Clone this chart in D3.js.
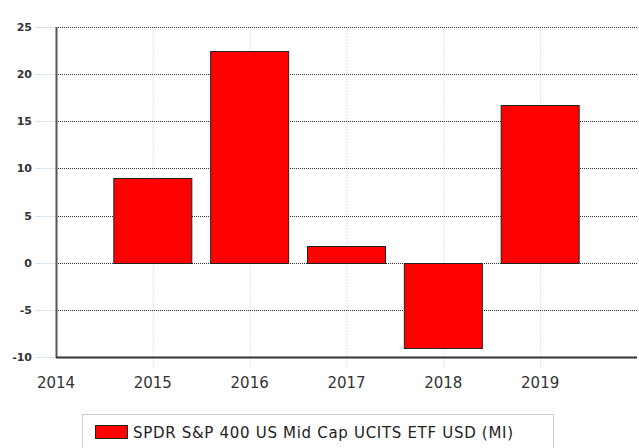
<!DOCTYPE html>
<html>
<head>
<meta charset="utf-8">
<script src="https://cdn.jsdelivr.net/npm/d3@7"></script>
<style>
  body { margin: 0; background: #fff; }
  svg { display: block; }
</style>
</head>
<body>
<svg id="chart" width="639" height="448"></svg>
<script>
// Annual returns (%)
let years = [2015, 2016, 2017, 2018, 2019];
let returns = [9.0, 22.45, 1.77, -9.05, 16.7];
let yTicks = [-10, -5, 0, 5, 10, 15, 20, 25];
let xTicks = [2014, 2015, 2016, 2017, 2018, 2019];
let seriesName = "SPDR S&P 400 US Mid Cap UCITS ETF USD (MI)";

let svg = d3.select("#chart");
let font = "'DejaVu Sans', Verdana, sans-serif";

let plot = { left: 56, right: 637, top: 27, bottom: 357 };

let x = d3.scaleLinear()
    .domain([2014, 2020])
    .range([plot.left, plot.right]);

let y = d3.scaleLinear()
    .domain([-10, 25])
    .range([plot.bottom, plot.top]);

let barWidth = 78;

// Vertical grid (light blue, dotted)
svg.append("g")
    .selectAll("line")
    .data(xTicks.slice(1))
    .join("line")
    .attr("x1", d => x(d) + 0.5)
    .attr("x2", d => x(d) + 0.5)
    .attr("y1", plot.top)
    .attr("y2", plot.bottom + 12)
    .attr("stroke", "#d6e6f7")
    .attr("stroke-dasharray", "2,1");

// Horizontal grid (dark, dotted)
svg.append("g")
    .selectAll("line")
    .data(yTicks.slice(1))
    .join("line")
    .attr("x1", plot.left)
    .attr("x2", plot.right)
    .attr("y1", d => Math.round(y(d)) + 0.5)
    .attr("y2", d => Math.round(y(d)) + 0.5)
    .attr("stroke", "#333")
    .attr("stroke-dasharray", "1,1");

// Y tick marks (light blue)
svg.append("g")
    .selectAll("line")
    .data(yTicks)
    .join("line")
    .attr("x1", 35)
    .attr("x2", plot.left)
    .attr("y1", d => Math.round(y(d)) + 0.5)
    .attr("y2", d => Math.round(y(d)) + 0.5)
    .attr("stroke", "#d6e6f7");

// Bars
svg.append("g")
    .selectAll("rect")
    .data(years)
    .join("rect")
    .attr("x", (d, i) => x(d) - barWidth / 2)
    .attr("y", (d, i) => Math.round(y(Math.max(0, returns[i]))) + 0.5)
    .attr("width", barWidth)
    .attr("height", (d, i) => Math.abs(Math.round(y(returns[i])) - Math.round(y(0))))
    .attr("fill", "#ff0000")
    .attr("stroke", "#222")
    .attr("stroke-width", 1);

// Axis lines
svg.append("line")
    .attr("x1", plot.left + 0.5).attr("x2", plot.left + 0.5)
    .attr("y1", plot.top).attr("y2", plot.bottom + 1)
    .attr("stroke", "#555").attr("stroke-width", 2);
svg.append("line")
    .attr("x1", plot.left).attr("x2", plot.right)
    .attr("y1", plot.bottom + 0.5).attr("y2", plot.bottom + 0.5)
    .attr("stroke", "#333").attr("stroke-width", 2);

// Y labels
svg.append("g")
    .selectAll("text")
    .data(yTicks)
    .join("text")
    .attr("x", 32)
    .attr("y", d => y(d) + 4)
    .attr("text-anchor", "end")
    .attr("font-family", font)
    .attr("font-size", 11)
    .attr("font-weight", 600)
    .attr("fill", "#333")
    .text(d => d);

// X labels
svg.append("g")
    .selectAll("text")
    .data(xTicks)
    .join("text")
    .attr("x", d => x(d))
    .attr("y", 388)
    .attr("text-anchor", "middle")
    .attr("font-family", font)
    .attr("font-size", 15)
    .attr("fill", "#333")
    .text(d => d);

// Legend
let legend = svg.append("g");
legend.append("rect")
    .attr("x", 82.5).attr("y", 414.5)
    .attr("width", 471).attr("height", 40)
    .attr("fill", "#fff")
    .attr("stroke", "#ccc");
legend.append("rect")
    .attr("x", 95.5).attr("y", 425.5)
    .attr("width", 32).attr("height", 13)
    .attr("fill", "#ff0000")
    .attr("stroke", "#222");
legend.append("text")
    .attr("x", 133)
    .attr("y", 438)
    .attr("font-family", font)
    .attr("font-size", 15)
    .attr("textLength", 380)
    .attr("lengthAdjust", "spacing")
    .attr("fill", "#222")
    .text(seriesName);
</script>
</body>
</html>
